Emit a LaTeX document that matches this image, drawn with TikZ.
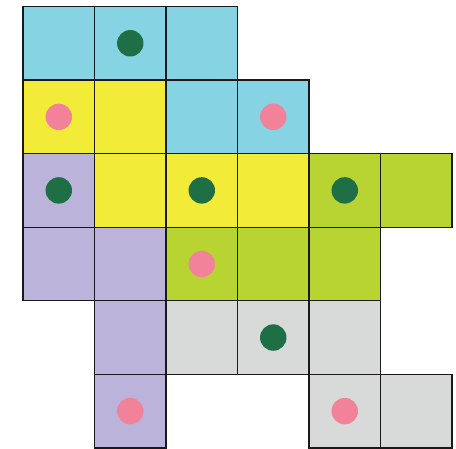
\documentclass[tikz,border=0pt]{standalone}
\usepackage{xcolor}
\usepackage{tikz}

\definecolor{tileblue}{HTML}{86D3E3}
\definecolor{tileyellow}{HTML}{F2EC38}
\definecolor{tilepurple}{HTML}{BBB3DA}
\definecolor{tilelime}{HTML}{B8D433}
\definecolor{tilegray}{HTML}{D8D9D9}
\definecolor{dotgreen}{HTML}{1E6F46}
\definecolor{dotpink}{HTML}{F2819A}

\tikzset{
  tile/.style={draw=black!90,line width=0.5pt},
  dot/.style={circle,inner sep=0pt,minimum size=0.37cm}
}

\begin{document}
\begin{tikzpicture}[x=1cm,y=-1.029cm]
  \useasboundingbox (-0.322,-0.088) rectangle (6.056,6.01);
  % cells: column/row/colour, filled first, then outlined
  \def\cells{0/0/tileblue,1/0/tileblue,2/0/tileblue,
      0/1/tileyellow,1/1/tileyellow,2/1/tileblue,3/1/tileblue,
      0/2/tilepurple,1/2/tileyellow,2/2/tileyellow,3/2/tileyellow,4/2/tilelime,5/2/tilelime,
      0/3/tilepurple,1/3/tilepurple,2/3/tilelime,3/3/tilelime,4/3/tilelime,
      1/4/tilepurple,2/4/tilegray,3/4/tilegray,4/4/tilegray,
      1/5/tilepurple,4/5/tilegray,5/5/tilegray}
  \foreach \c/\r/\col in \cells {\fill[\col] (\c,\r) rectangle ++(1,1);}
  \foreach \c/\r/\col in \cells {\draw[tile] (\c,\r) rectangle ++(1,1);}
  % dots
  \foreach \c/\r/\col/\lab in {1/0/dotgreen/g1,0/1/dotpink/p1,3/1/dotpink/p2,
      0/2/dotgreen/g2,2/2/dotgreen/g3,4/2/dotgreen/g4,2/3/dotpink/p3,
      3/4/dotgreen/g5,1/5/dotpink/p4,4/5/dotpink/p5} {
    \node[dot,fill=\col] (\lab) at (\c+0.5,\r+0.5) {};
  }
\end{tikzpicture}
\end{document}
